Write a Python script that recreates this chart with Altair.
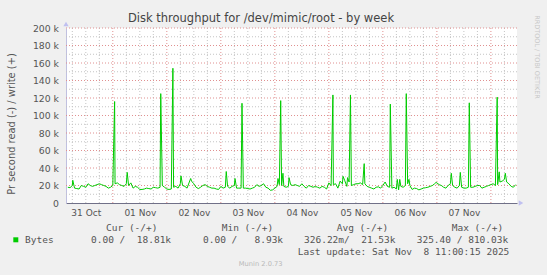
import altair as alt
import pandas as pd

# ---------------- data ----------------
title_text = "Disk throughput for /dev/mimic/root - by week"
y_title = "Pr second read (-) / write (+)"
day_labels = ["31 Oct", "01 Nov", "02 Nov", "03 Nov", "04 Nov", "05 Nov", "06 Nov", "07 Nov"]
y_ticks = [0, 20000, 40000, 60000, 80000, 100000, 120000, 140000, 160000, 180000, 200000]

# hourly write throughput (k bytes/s), hours relative to 01 Nov 00:00, starting at -20 h
start_hour = -20
baseline_k = [
    18, 17.5, 20, 17, 16.5, 16, 20, 19, 18, 22,
    20, 19, 20, 21, 22, 21, 20, 19, 17, 18,
    20, 22, 23, 21, 20, 19, 22, 20, 23, 17,
    19, 18, 15.5, 15.5, 16, 17, 16.5, 16, 18, 17.5,
    17, 18, 20, 18, 16, 15.5, 16, 18, 19, 17,
    22, 20, 19, 17, 24, 25, 22, 18, 16.5, 18,
    20, 21, 19, 18, 17, 17, 16, 15.5, 19, 17,
    18, 19, 17, 19, 20, 17, 17, 17, 17, 17,
    16.5, 16, 17, 18, 21, 19, 20, 22, 18, 17,
    14.5, 15, 17, 19, 21, 20, 19, 18, 19, 21,
    20, 21, 20, 19, 22, 19, 17, 20, 19, 18,
    19, 18, 17, 19, 18, 16, 23, 20, 21, 22,
    17, 25, 22, 26, 19, 24, 20, 21, 22, 22,
    23, 21, 22, 19, 18, 17, 16, 18, 18.5, 17,
    20, 24, 19, 18, 17, 18, 16, 15, 19, 18,
    20, 22, 20, 15.5, 17, 16.5, 15, 16, 17, 17.5,
    18, 19, 20, 22, 23, 21, 20, 18, 17, 20,
    22, 20, 18, 17, 20, 18, 17, 17, 18, 18,
    18, 19, 20, 20, 17, 18, 19, 20, 21, 22,
    20, 21, 24, 25, 27, 24, 22, 19, 18, 21,
]
# short bursts between hourly samples
spike_hours = [-17.8, 0.8, 6.4, 21.3, 26.7, 30.3, 34.6, 50.4, 54.3, 57.4, 73.4, 74.6,
               75.6, 78.3, 97.8, 102.3, 104.3, 105.6, 111.7, 123.3, 126.4, 127.5, 130.4,
               131.6, 143.6, 150.4, 154.4, 158.4, 170.8, 171.7, 174.4]
spike_k = [26, 116, 35, 125, 154, 31, 28, 36, 28, 114, 28, 117,
           34, 29, 123.5, 30.5, 29, 123.5, 45, 113, 27, 27, 125,
           27, 23.5, 34, 35, 114.5, 121, 35.6, 34]

legend_name = "Bytes"
stat_heads = ["Cur (-/+)", "Min (-/+)", "Avg (-/+)", "Max (-/+)"]
stat_vals = ["0.00 /  18.81k", "0.00 /   8.93k", "326.22m/  21.53k", "325.40 / 810.03k"]
last_update = "Last update: Sat Nov  8 11:00:15 2025"
munin_version = "Munin 2.0.73"
watermark = "RRDTOOL / TOBI OETIKER"

# ---------------- build ----------------
rows = [(start_hour + i, v * 1000) for i, v in enumerate(baseline_k)]
rows += [(h, v * 1000) for h, v in zip(spike_hours, spike_k)]
df = pd.DataFrame(rows, columns=["h", "v"]).sort_values("h")

W, H = 451, 175
PL, PT = 66, 28
xscale = alt.Scale(domain=[-20.8, 179.6], nice=False, zero=False)
yscale = alt.Scale(domain=[0, 200000], nice=False)

major_x = pd.DataFrame({"h": list(range(0, 180, 24))})
minor_x = pd.DataFrame({"h": [h for h in range(-18, 180, 6) if h % 24 != 0]})
major_y = pd.DataFrame({"v": y_ticks[1:]})
minor_y = pd.DataFrame({"v": [t + 10000 for t in y_ticks[:-1]]})

grid_grey = "#c4c4c4"
grid_red = "#e09090"

label_expr = "[" + ",".join("'%s'" % d for d in day_labels) + "][round((datum.value + 12) / 24)]"
x_axis = alt.Axis(values=[-12 + 24 * i for i in range(len(day_labels))], labelExpr=label_expr,
                  title=None, grid=False, ticks=False, domain=True, domainColor="#707088",
                  labelFont="DejaVu Sans", labelFontSize=9, labelColor="#555555", labelPadding=5)
y_axis = alt.Axis(values=y_ticks, labelExpr="datum.value == 0 ? '0' : (datum.value / 1000) + ' k'",
                  title=None, grid=False, ticks=False, domain=True, domainColor="#c0c0e0",
                  labelFont="DejaVu Sans", labelFontSize=9.3, labelColor="#555555", labelPadding=7.5)

X = alt.X("h:Q", scale=xscale, axis=x_axis)
Y = alt.Y("v:Q", scale=yscale, axis=y_axis)

# invisible carrier of the axes, then the visible line on top of the grid
axes_carrier = alt.Chart(df).mark_line(strokeOpacity=0).encode(x=X, y=Y)
line = alt.Chart(df).mark_line(color="#00cc00", strokeWidth=1, interpolate="linear").encode(x=X, y=Y)

minor_vx = alt.Chart(minor_x).mark_rule(color=grid_grey, strokeDash=[1, 2], strokeWidth=1).encode(x=X)
minor_hy = alt.Chart(minor_y).mark_rule(color=grid_grey, strokeDash=[1, 2], strokeWidth=1).encode(y=Y)
major_vx = alt.Chart(major_x).mark_rule(color=grid_red, strokeDash=[1, 2], strokeWidth=1).encode(x=X)
major_hy = alt.Chart(major_y).mark_rule(color=grid_red, strokeDash=[1, 2], strokeWidth=1).encode(y=Y)

one = alt.Data(values=[{}])

def txt(s, px, py, size, color="#555555", font="DejaVu Sans", align="left", angle=0):
    return alt.Chart(one).mark_text(text=s, fontSize=size, color=color, font=font, align=align,
                                    baseline="middle", angle=angle).encode(
        x=alt.value(px - PL), y=alt.value(py - PT))

def mono(s):
    return s.replace(" ", "\u00a0")

layers = [axes_carrier, minor_vx, minor_hy, major_vx, major_hy, line]

# axis arrows
layers.append(alt.Chart(one).mark_point(shape="triangle-up", filled=True, size=28, color="#c0c0f0", opacity=1).encode(
    x=alt.value(0), y=alt.value(-4)))
layers.append(alt.Chart(one).mark_point(shape="triangle-right", filled=True, size=28, color="#c0c0f0", opacity=1).encode(
    x=alt.value(W + 4), y=alt.value(H)))

# titles
layers.append(txt(title_text, 261, 19, 11.5, color="#444444", align="center"))
layers.append(txt(y_title, 12, 124, 9.9, color="#555555", align="center", angle=270))
layers.append(txt(watermark, 537, 57, 6.5, color="#c8c8c8", align="center", angle=90))

# legend
layers.append(alt.Chart(one).mark_square(size=25, color="#00cc00", opacity=1).encode(
    x=alt.value(15.8 - PL), y=alt.value(239.8 - PT)))
MF = "DejaVu Sans Mono"
head_x = [106, 221.7, 336.7, 451.7]
val_x = [91, 203, 304, 416.7]
for s, px in zip(stat_heads, head_x):
    layers.append(txt(mono(s), px, 227.5, 9.5, font=MF))
layers.append(txt(mono(legend_name), 25, 240, 9.5, font=MF))
for s, px in zip(stat_vals, val_x):
    layers.append(txt(mono(s), px, 240, 9.5, font=MF))
layers.append(txt(mono(last_update), 297.7, 252, 9.5, font=MF))
layers.append(txt(munin_version, 260.7, 263.5, 6.7, color="#b8b8b8", align="center"))

chart = alt.layer(*layers).properties(
    width=W, height=H,
    autosize=alt.AutoSizeParams(type="none"),
    padding={"left": PL, "top": PT, "right": 547 - PL - W, "bottom": 275 - PT - H},
    background="#f0f0f0",
).configure_view(fill="white", stroke=None)

chart.save("out.html", embed_options={"renderer": "svg", "actions": False})
